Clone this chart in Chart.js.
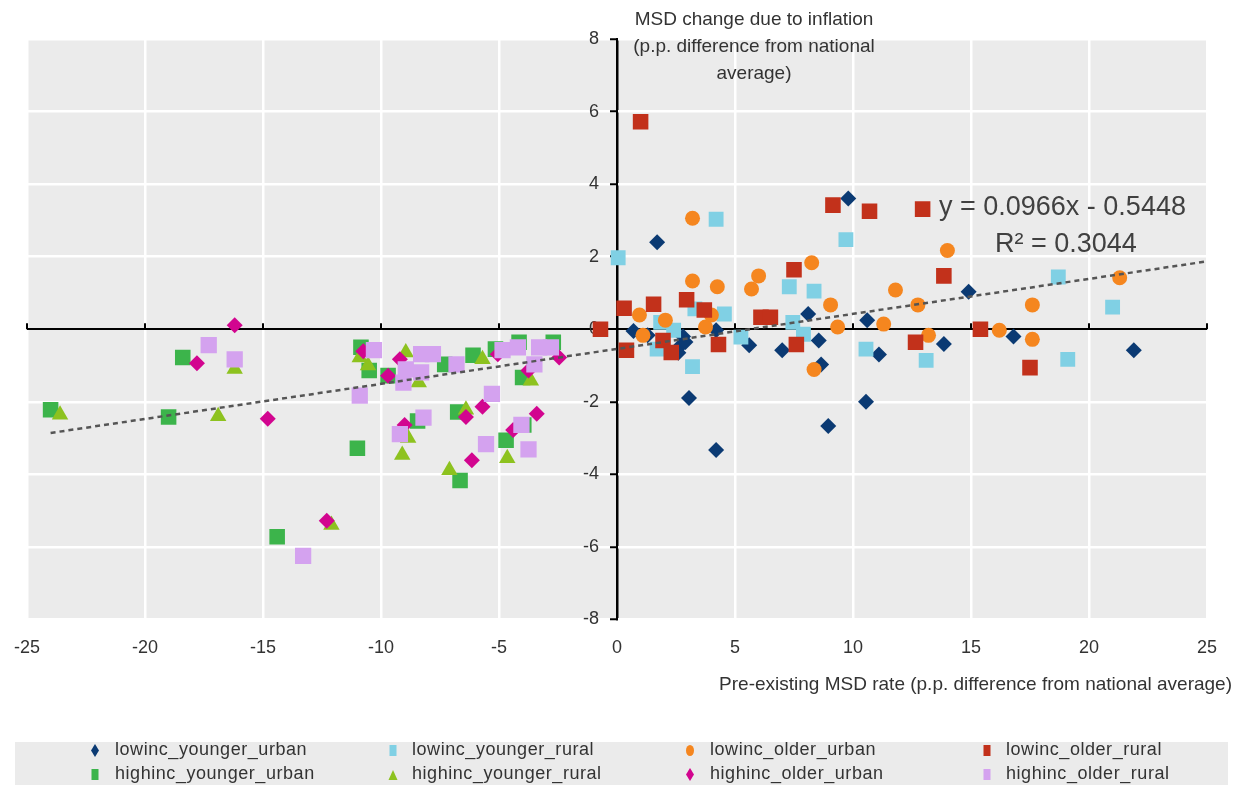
<!DOCTYPE html>
<html>
<head>
<meta charset="utf-8">
<script src="https://cdn.jsdelivr.net/npm/chart.js@4.4.1/dist/chart.umd.min.js"></script>
<style>
  body { margin: 0; background: #fff; font-family: "Liberation Sans", Arial, sans-serif; }
  #wrap { position: relative; width: 1235px; height: 785px; }
  #legend { position: absolute; left: 15px; top: 742px; width: 1213px; height: 43px; background: #ebebeb; }
  .lg-text { position: absolute; font-size: 18px; color: #333; white-space: nowrap; line-height: 20px; letter-spacing: 0.55px; }
  .lg-mark { position: absolute; }
</style>
</head>
<body>
<div id="wrap">
  <canvas id="chart" width="1235" height="785"></canvas>
  <div id="legend"></div>
</div>
<script>
// series names in legend order
const seriesNames = [
  "lowinc_younger_urban", "lowinc_younger_rural", "lowinc_older_urban", "lowinc_older_rural",
  "highinc_younger_urban", "highinc_younger_rural", "highinc_older_urban", "highinc_older_rural"
];

// [pre-existing MSD rate diff, MSD change due to inflation]
const lowincYoungerUrban = [
  [1.7, 2.4], [9.8, 3.6], [3.05, -1.9], [4.2, -3.33], [8.95, -2.67], [10.55, -2.0],
  [8.1, 0.42], [10.6, 0.25], [11.1, -0.7], [8.55, -0.31], [8.65, -0.97], [7.0, -0.58],
  [5.6, -0.44], [4.2, -0.03], [0.7, -0.05], [1.3, -0.17], [2.8, -0.2], [2.7, -0.45],
  [2.6, -0.65], [2.9, -0.35], [14.9, 1.03], [13.85, -0.41], [16.8, -0.2], [21.9, -0.58]
];
const lowincYoungerRural = [
  [0.05, 1.97], [4.2, 3.03], [9.7, 2.47], [7.3, 1.17], [8.35, 1.05], [4.55, 0.42],
  [3.3, 0.56], [7.45, 0.19], [7.9, -0.14], [5.25, -0.22], [3.2, -1.03], [10.55, -0.55],
  [1.85, 0.19], [2.4, -0.03], [1.7, -0.55], [18.7, 1.44], [21.0, 0.61], [13.1, -0.86],
  [19.1, -0.83]
];
const lowincOlderUrban = [
  [3.2, 3.06], [3.2, 1.33], [4.25, 1.17], [5.7, 1.11], [6.0, 1.47], [8.25, 1.83],
  [9.05, 0.67], [9.35, 0.06], [8.35, -1.11], [11.8, 1.08], [11.3, 0.14], [0.95, 0.39],
  [1.1, -0.17], [2.05, 0.25], [3.75, 0.06], [4.0, 0.39], [14.0, 2.17], [12.75, 0.67],
  [13.2, -0.17], [16.2, -0.03], [17.6, 0.67], [17.6, -0.28], [21.3, 1.42]
];
const lowincOlderRural = [
  [1.0, 5.72], [9.15, 3.42], [10.7, 3.25], [7.5, 1.64], [0.3, 0.58], [1.55, 0.69],
  [2.95, 0.81], [3.7, 0.53], [-0.7, 0.0], [0.4, -0.58], [1.95, -0.31], [2.3, -0.64],
  [4.3, -0.42], [6.1, 0.33], [6.5, 0.33], [7.6, -0.42], [12.95, 3.31], [13.85, 1.47],
  [12.65, -0.36], [15.4, 0.0], [17.5, -1.06]
];
const highincYoungerUrban = [
  [-24.0, -2.22], [-19.0, -2.42], [-18.4, -0.78], [-14.4, -5.72], [-11.0, -3.28],
  [-8.45, -2.53], [-6.75, -2.28], [-6.65, -4.17], [-4.7, -3.06], [-3.95, -2.64],
  [-10.85, -0.5], [-10.5, -1.14], [-9.7, -1.28], [-7.3, -0.97], [-6.1, -0.72],
  [-5.15, -0.55], [-4.15, -0.36], [-2.7, -0.36], [-4.0, -1.33]
];
const highincYoungerRural = [
  [-23.6, -2.36], [-16.9, -2.4], [-16.2, -1.1], [-12.1, -5.4], [-9.1, -3.47],
  [-7.1, -3.89], [-4.65, -3.56], [-6.4, -2.22], [-8.85, -3.0], [-10.9, -0.78],
  [-10.55, -1.0], [-8.95, -0.64], [-8.4, -1.47], [-5.7, -0.83], [-3.65, -1.42]
];
const highincOlderUrban = [
  [-16.2, 0.11], [-17.8, -0.94], [-14.8, -2.47], [-12.3, -5.28], [-6.4, -2.42],
  [-5.7, -2.14], [-3.4, -2.33], [-6.15, -3.61], [-9.0, -2.64], [-4.4, -2.78],
  [-10.75, -0.61], [-9.2, -0.83], [-9.7, -1.28], [-2.45, -0.78], [-3.75, -1.14],
  [-5.05, -0.69]
];
const highincOlderRural = [
  [-17.3, -0.44], [-16.2, -0.83], [-13.3, -6.25], [-10.9, -1.83], [-8.2, -2.44],
  [-9.2, -2.89], [-5.3, -1.78], [-5.55, -3.17], [-4.05, -2.64], [-3.75, -3.31],
  [-10.3, -0.58], [-8.95, -1.11], [-9.05, -1.47], [-8.3, -0.69], [-7.8, -0.69],
  [-8.3, -1.19], [-6.8, -0.97], [-4.85, -0.58], [-4.2, -0.5], [-3.3, -0.5],
  [-2.8, -0.5], [-3.5, -0.97]
];

// linear trendline end points as drawn
const trendPoints = [[-24, -2.86], [25, 1.87]];
const trendLabel = ["y = 0.0966x - 0.5448", "R² = 0.3044"];

const seriesData = [
  lowincYoungerUrban, lowincYoungerRural, lowincOlderUrban, lowincOlderRural,
  highincYoungerUrban, highincYoungerRural, highincOlderUrban, highincOlderRural
];

const seriesColors = ["#0b3a73", "#80d0e4", "#f5861f", "#c2311b", "#3cb44b", "#8dc21f", "#d2058f", "#d4a2ef"];
const seriesShapes = ["rectRot", "rect", "circle", "rect", "rect", "triangle", "rectRot", "rect"];
const seriesRadius = [8, 10.5, 7.5, 11, 11, 9.5, 8, 11.5];

const fontFamily = '"Liberation Sans", Arial, sans-serif';
Chart.defaults.font.family = fontFamily;

const datasets = seriesData.map((data, i) => ({
  label: seriesNames[i],
  data,
  order: seriesData.length - i,
  pointStyle: seriesShapes[i],
  pointRadius: seriesRadius[i],
  backgroundColor: seriesColors[i],
  borderColor: seriesColors[i],
  borderWidth: 0,
  showLine: false
}));

const trendSet = {
  type: "line",
  label: "trend",
  order: 0,
  borderColor: "#555",
  borderWidth: 2.5,
  borderDash: [5, 4],
  pointRadius: 0,
  fill: false
};
trendSet.data = trendPoints;
datasets.push(trendSet);

// grey plot area
const plotBackground = {
  id: "plotBackground",
  beforeDraw(chart) {
    const { ctx, chartArea: a } = chart;
    ctx.save();
    ctx.fillStyle = "#ebebeb";
    ctx.fillRect(a.left, a.top, a.right - a.left, a.bottom - a.top);
    ctx.restore();
  }
};

// small tick marks on the horizontal zero line + y labels beside the vertical zero line
const zeroLineTicks = {
  id: "zeroLineTicks",
  beforeDatasetsDraw(chart) {
    const { ctx, scales } = chart;
    const y0 = scales.y.getPixelForValue(0);
    const x0 = scales.x.getPixelForValue(0);
    ctx.save();
    ctx.strokeStyle = "#000";
    ctx.lineWidth = 2;
    scales.x.ticks.forEach((t) => {
      const px = scales.x.getPixelForValue(t.value);
      ctx.beginPath();
      ctx.moveTo(px, y0);
      ctx.lineTo(px, y0 - 6);
      ctx.stroke();
    });
    ctx.fillStyle = "#333";
    ctx.font = "18px " + fontFamily;
    ctx.textAlign = "right";
    ctx.textBaseline = "middle";
    scales.y.ticks.forEach((t) => {
      ctx.fillText(String(t.value), x0 - 18, scales.y.getPixelForValue(t.value));
    });
    ctx.restore();
  }
};

// axis titles and trendline equation
const chartTexts = {
  id: "chartTexts",
  afterDraw(chart) {
    const { ctx } = chart;
    ctx.save();
    ctx.fillStyle = "#333";
    ctx.font = "19px " + fontFamily;
    ctx.textBaseline = "middle";
    ctx.textAlign = "center";
    const yt = ["MSD change due to inflation", "(p.p. difference from national", "average)"];
    yt.forEach((s, i) => ctx.fillText(s, 754, 20 + i * 27));

    ctx.textAlign = "right";
    ctx.fillText("Pre-existing MSD rate (p.p. difference from national average)", 1232, 685);

    ctx.fillStyle = "#404040";
    ctx.font = "27px " + fontFamily;
    ctx.textAlign = "left";
    ctx.fillText(trendLabel[0], 939, 208);
    ctx.fillText(trendLabel[1], 995, 245);
    ctx.restore();
  }
};

const data = { datasets };
const options = {
  responsive: false,
  animation: false,
  layout: { padding: { left: 27, right: 28, top: 39, bottom: 108 } },
  plugins: {
    legend: { display: false },
    tooltip: { enabled: false }
  },
  scales: {
    x: {
      type: "linear",
      min: -25,
      max: 25,
      position: "bottom",
      border: { display: false },
      grid: {
        color: (c) => (c.tick && c.tick.value === 0 ? "#000" : "#fff"),
        lineWidth: 2.5,
        drawTicks: false
      },
      ticks: { stepSize: 5, color: "#333", font: { size: 18 }, padding: 18 },
      afterFit: (s) => { s.paddingLeft = 0; s.paddingRight = 0; }
    },
    y: {
      type: "linear",
      min: -8,
      max: 8,
      position: { x: 0 },
      border: { display: true, color: "#000", width: 2 },
      grid: {
        color: (c) => (c.tick && c.tick.value === 0 ? "#000" : "#fff"),
        lineWidth: (c) => (c.tick && c.tick.value === 0 ? 2 : 2.5),
        tickColor: "#000",
        tickWidth: 2,
        tickLength: 6,
        drawTicks: true
      },
      ticks: { stepSize: 2, display: false },
      afterFit: (s) => { s.width = 0; }
    }
  }
};

new Chart(document.getElementById("chart"), {
  type: "scatter",
  data,
  options,
  plugins: [plotBackground, zeroLineTicks, chartTexts]
});

// legend (4 columns x 2 rows)
const legendEl = document.getElementById("legend");
const markX = [95, 393, 690, 987];
const textX = [115, 412, 710, 1006];
const rowY = [749, 773];
function markerSvg(shape, color) {
  let body;
  if (shape === "rectRot") body = `<polygon points="4,0 8,6.5 4,13 0,6.5" fill="${color}"/>`;
  else if (shape === "circle") body = `<ellipse cx="4" cy="6.5" rx="4" ry="5.5" fill="${color}"/>`;
  else if (shape === "triangle") body = `<polygon points="4,2 8.5,12 -0.5,12" fill="${color}"/>`;
  else body = `<rect x="0.5" y="1" width="7" height="11" fill="${color}"/>`;
  return `<svg width="8" height="13" viewBox="0 0 8 13" overflow="visible">${body}</svg>`;
}
seriesNames.forEach((name, i) => {
  const col = i % 4, row = Math.floor(i / 4);
  const m = document.createElement("div");
  m.className = "lg-mark";
  m.style.left = (markX[col] - 4 - 15) + "px";
  m.style.top = (rowY[row] - 6.5 - 742) + "px";
  m.innerHTML = markerSvg(seriesShapes[i], seriesColors[i]);
  legendEl.appendChild(m);
  const t = document.createElement("div");
  t.className = "lg-text";
  t.style.left = (textX[col] - 15) + "px";
  t.style.top = (rowY[row] - 10 - 742) + "px";
  t.textContent = name;
  legendEl.appendChild(t);
});
</script>
</body>
</html>
